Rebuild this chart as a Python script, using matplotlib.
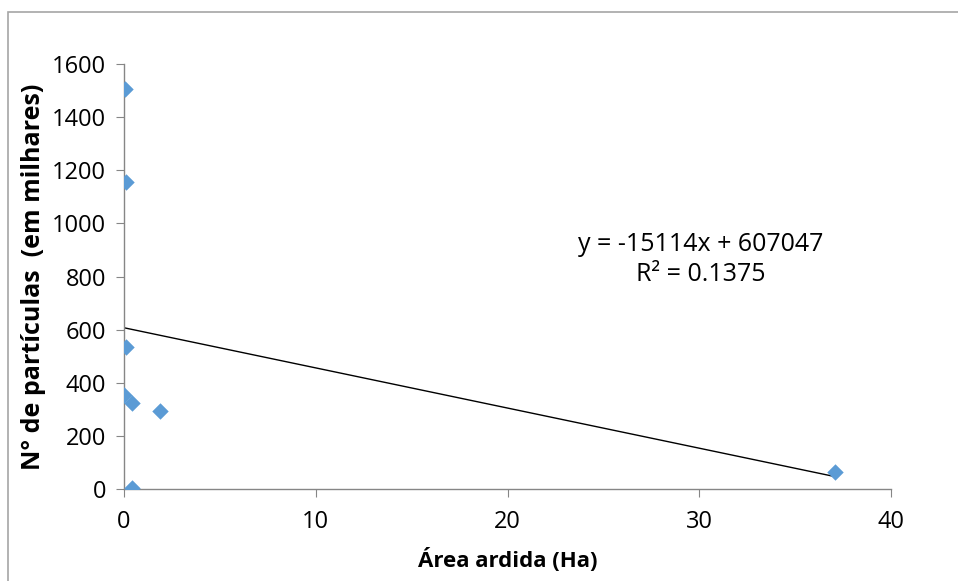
import matplotlib
matplotlib.use("Agg")
import matplotlib.pyplot as plt
from matplotlib.patches import Rectangle
import numpy as np

# Data (thousands of particles vs burnt area in ha)
area_ha = [0.05, 0.08, 0.12, 0.0, 0.4, 1.9, 0.4, 37.1]
particles_k = [1506, 1156, 535, 354, 324, 294, 4, 64]
slope_k = -15.114
intercept_k = 607.047
eq_text = "y = -15114x + 607047"
r2_text = "R² = 0.1375"
x_ticks = [0, 10, 20, 30, 40]
y_ticks = [0, 200, 400, 600, 800, 1000, 1200, 1400, 1600]

plt.rcParams['font.family'] = ['Open Sans', 'DejaVu Sans']

W, H = 958, 581
fig = plt.figure(figsize=(W / 100, H / 100), dpi=100)
ax = fig.add_axes([124 / W, 1 - 489 / H, (891 - 124) / W, (489 - 64) / H])

# outer chart border
fig.patches.append(Rectangle((8 / W, -0.1), 1.2, 1 - 12 / H + 0.1, transform=fig.transFigure,
                             fill=False, edgecolor='#A6A6A6', linewidth=1.2))

ax.scatter(area_ha, particles_k, marker='D', s=70, color='#5B9BD5', zorder=3, linewidths=0)
xs = np.array([0, max(area_ha)])
ax.plot(xs, intercept_k + slope_k * xs, color='black', linewidth=1.0, zorder=2)

ax.set_xlim(0, 40)
ax.set_ylim(0, 1600)
ax.set_xticks(x_ticks)
ax.set_yticks(y_ticks)
for s in ['top', 'right']:
    ax.spines[s].set_visible(False)
for s in ['left', 'bottom']:
    ax.spines[s].set_color('#868686')
    ax.spines[s].set_linewidth(1.0)
ax.tick_params(axis='both', direction='out', length=6, color='#868686', labelsize=17)
ax.tick_params(axis='x', pad=9)
ax.tick_params(axis='y', pad=7)
ax.set_xlabel('Área ardida (Ha)', fontsize=16, fontweight='bold', labelpad=10)
ax.set_ylabel('N° de partículas  (em milhares)', fontsize=18, fontweight='bold', labelpad=4)

ax.text(30.1, 919, eq_text, ha='center', va='center', fontsize=18)
ax.text(30.1, 806, r2_text, ha='center', va='center', fontsize=18)

fig.savefig('out.png', dpi=100)
